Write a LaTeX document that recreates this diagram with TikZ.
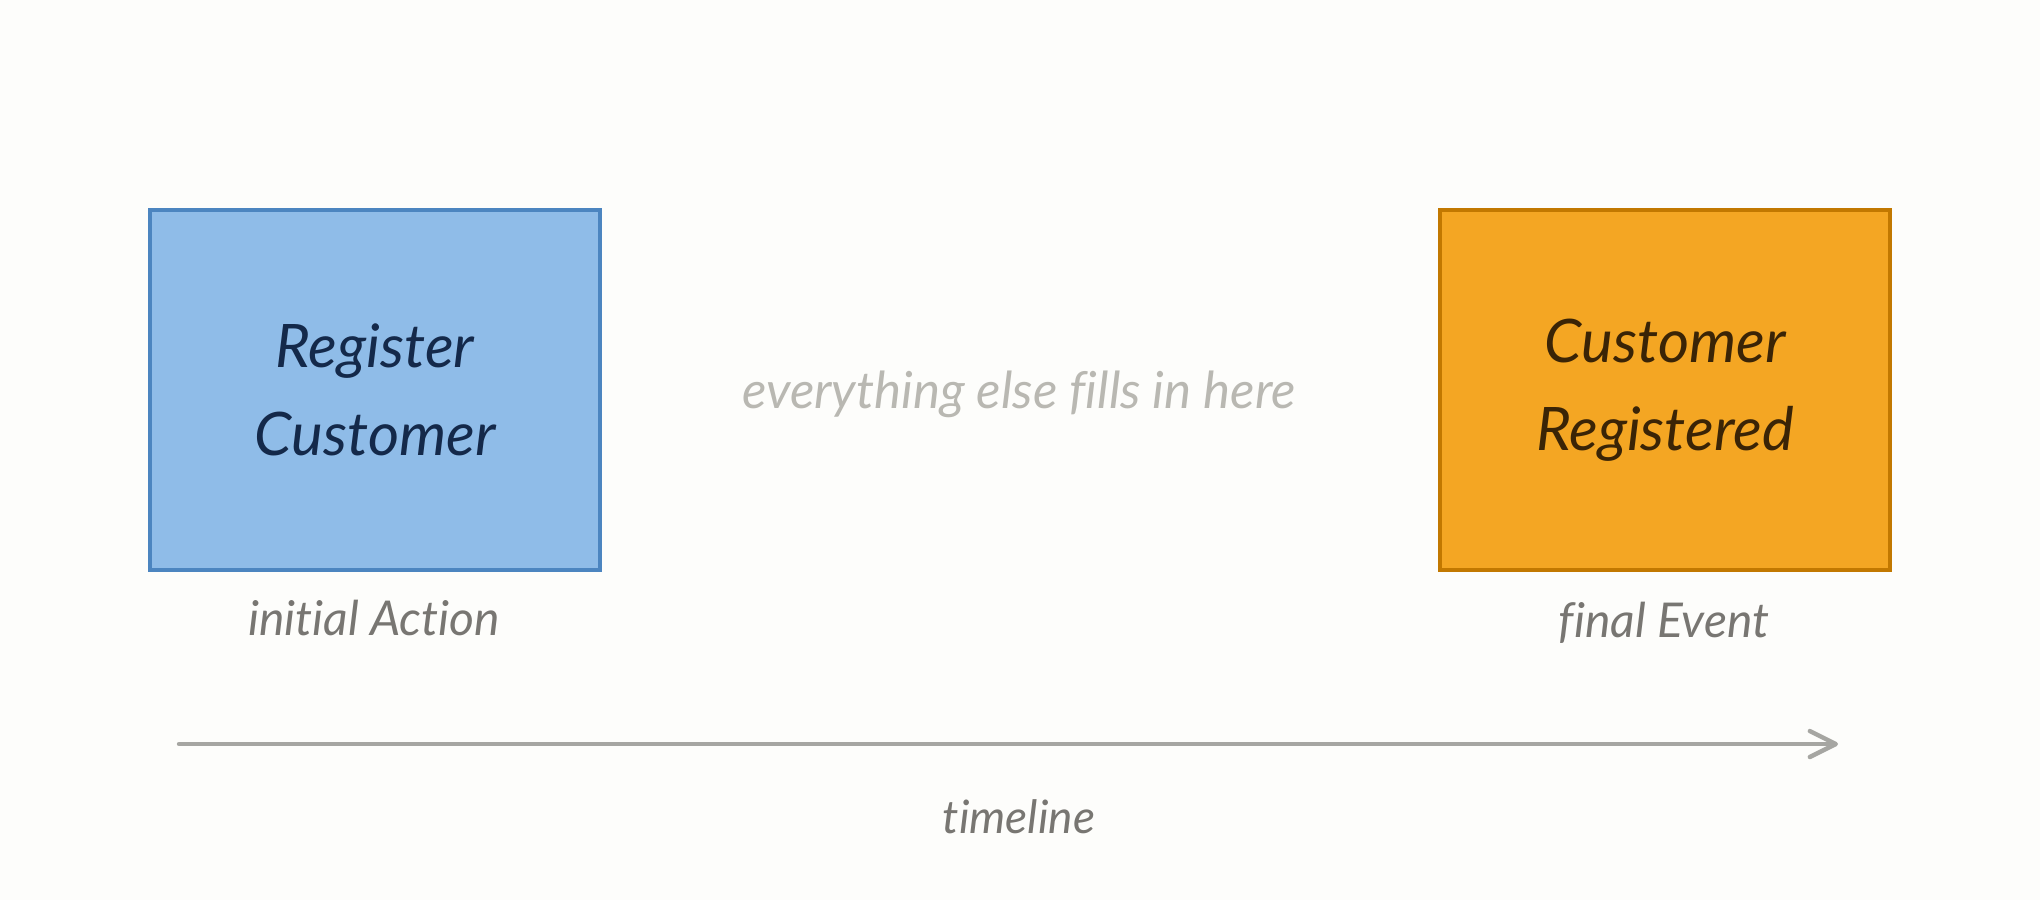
\documentclass[tikz,border=0pt]{standalone}
\usepackage{fontspec}
\setmainfont{Lato}[Ligatures={NoCommon}]
\usetikzlibrary{arrows.meta}
\definecolor{bgc}{HTML}{FDFDFB}
\definecolor{bluefill}{HTML}{8FBCE8}
\definecolor{blueline}{HTML}{4C85C0}
\definecolor{bluetext}{HTML}{14294A}
\definecolor{orfill}{HTML}{F4A623}
\definecolor{orline}{HTML}{C27800}
\definecolor{ortext}{HTML}{3A2406}
\definecolor{labelgray}{HTML}{787672}
\definecolor{lightgray}{HTML}{B9B8B2}
\definecolor{arrowgray}{HTML}{A6A6A2}
\begin{document}
\begin{tikzpicture}[x=0.5pt,y=-0.5pt,
  boxstyle/.style={draw, line width=2pt, minimum width=225pt, minimum height=180pt,
    inner sep=0pt, align=center, font=\itshape\fontsize{30}{44}\selectfont},
  lbl/.style={anchor=base, inner sep=0pt, font=\itshape\fontsize{24}{28}\selectfont, text=labelgray},
  tline/.style={draw=arrowgray, line width=2.2pt, line cap=round,
    -{Straight Barb[length=13pt,width=13pt,round]}}]
\useasboundingbox (0,0) rectangle (2040,900);
\fill[bgc] (0,0) rectangle (2040,900);
\node[boxstyle, fill=bluefill, draw=blueline, text=bluetext] (cmd) at (375,390) {Register\\Customer};
\node[boxstyle, fill=orfill, draw=orline, text=ortext] (evt) at (1665,390) {Customer\\Registered};
\node[lbl] (cmdlbl) at (374,635) {initial Action};
\node[lbl] (evtlbl) at (1664,637) {final Event};
\node[lbl, text=lightgray, font=\itshape\fontsize{25.5}{30}\selectfont] (mid) at (1019,408) {everything else fills in here};
\coordinate (tstart) at (179,744);
\coordinate (tend) at (1838,744);
\draw[tline] (tstart) -- (tend);
\node[lbl, font=\itshape\fontsize{23}{28}\selectfont] (tl) at (1019,833) {timeline};
\end{tikzpicture}
\end{document}
